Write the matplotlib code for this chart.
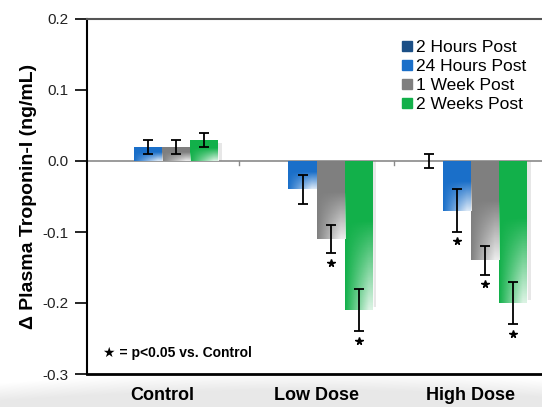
import numpy as np
import matplotlib
matplotlib.use("Agg")
import matplotlib.pyplot as plt
from matplotlib.lines import Line2D

groups = ["Control", "Low Dose", "High Dose"]
series = ["2 Hours Post", "24 Hours Post", "1 Week Post", "2 Weeks Post"]
colors = ["#1b4f86", "#1a6fc9", "#7f7f7f", "#12b04a"]

# values (ng/mL); None = not shown
vals = {
    "2 Hours Post":  [None, None, 0.0],
    "24 Hours Post": [0.02, -0.04, -0.07],
    "1 Week Post":   [0.02, -0.11, -0.14],
    "2 Weeks Post":  [0.03, -0.21, -0.20],
}
errs = {
    "2 Hours Post":  [None, None, 0.01],
    "24 Hours Post": [0.01, 0.02, 0.03],
    "1 Week Post":   [0.01, 0.02, 0.02],
    "2 Weeks Post":  [0.01, 0.03, 0.03],
}
signif = {
    "2 Hours Post":  [False, False, False],
    "24 Hours Post": [False, False, True],
    "1 Week Post":   [False, True, True],
    "2 Weeks Post":  [False, True, True],
}

fam = ["Liberation Sans", "DejaVu Sans"]
plt.rcParams["font.family"] = fam

fig = plt.figure(figsize=(5.42, 4.07), dpi=100)

# decorative grey swoosh behind the bottom
bg = fig.add_axes([0, 0, 1, 1], zorder=0)
H, W = 407, 542
yy, xx = np.mgrid[0:H, 0:W]
curve = 372 + 0.00012 * (xx - 300) ** 2
shade = np.clip((yy - curve) / 18.0, 0, 1)
img = np.ones((H, W, 3)) * (1 - 0.09 * shade)[..., None]
bg.imshow(img, extent=[0, W, H, 0], aspect="auto")
bg.set_xlim(0, W)
bg.set_ylim(H, 0)
bg.axis("off")

ax = fig.add_axes([87 / 542, 33 / 407, 455 / 542, 355 / 407], zorder=1)
ax.patch.set_alpha(0)

x = np.arange(len(groups))
w = 0.182
for i, s in enumerate(series):
    off = (i - 1.5) * w
    for g in range(len(groups)):
        v = vals[s][g]
        if v is None:
            continue
        xc = x[g] + off
        e = errs[s][g]
        if v != 0:
            # soft shadow
            ax.bar(xc + 0.022, v - np.sign(v) * 0.004, w, color="#d0d0d0", alpha=0.5, zorder=1)
            b = ax.bar(xc, v, w, color=colors[i], zorder=2)[0]
            # white gradient towards the tip / right side
            n = 60
            t = np.linspace(0, 1, n)
            along, across = np.meshgrid(np.linspace(0, 1, n), t, indexing="ij")
            a = np.clip((along - 0.4) / 0.6, 0, 1) * np.clip(across * 1.2, 0, 1) * 0.85
            grad = np.ones((n, n, 4))
            grad[..., 3] = a
            if v > 0:
                grad = grad[::-1]
            im = ax.imshow(grad, extent=[xc - w / 2, xc + w / 2, min(0, v), max(0, v)],
                           aspect="auto", origin="upper" if v < 0 else "lower", zorder=2.5)
            im.set_clip_path(b)
        ax.errorbar(xc, v, yerr=e, fmt="none", ecolor="black", elinewidth=1.3,
                    capsize=3.5, capthick=1.3, zorder=3)
        if signif[s][g]:
            ax.plot(xc, v - e - 0.013, marker="*", color="black", ms=5.5, zorder=3)

ax.set_xlim(-0.487, 2.46)
ax.set_ylim(-0.3, 0.2)
ax.autoscale(False)
ax.axhline(0, color="#8a8a8a", lw=1.2, zorder=1.5)
# small separators on the zero line between groups
for m in (x[:-1] + x[1:]) / 2:
    ax.plot([m, m], [0, -0.006], color="#8a8a8a", lw=1, zorder=1.5)

ax.set_yticks([0.2, 0.1, 0.0, -0.1, -0.2, -0.3])
ax.set_yticklabels(["0.2", "0.1", "0.0", "-0.1", "-0.2", "-0.3"], fontsize=11, color="#222222")
ax.tick_params(axis="y", length=9, width=1.2, direction="out", pad=4)
ax.set_xticks(x)
ax.set_xticklabels(groups, fontsize=13, fontweight="bold")
ax.tick_params(axis="x", length=0, pad=9)

ax.spines["right"].set_visible(False)
ax.spines["top"].set_color("#555555")
ax.spines["top"].set_linewidth(1.5)
ax.spines["left"].set_linewidth(1.5)
ax.spines["bottom"].set_linewidth(2)

ax.set_ylabel("\u0394 Plasma Troponin-I (ng/mL)", fontsize=14, fontweight="bold", labelpad=4)

handles = [Line2D([], [], ls="none", marker="s", ms=6.5, color=c) for c in colors]
leg = ax.legend(handles, series, loc="upper right", bbox_to_anchor=(1.0, 0.985), frameon=False,
                fontsize=12.5, handletextpad=0.1, labelspacing=0.22, handlelength=0.8)

ax.text(0.035, 0.06, "\u2605 = p<0.05 vs. Control", transform=ax.transAxes,
        fontsize=10, fontweight="bold", family=fam, va="center")

fig.savefig("out.png", dpi=100)
